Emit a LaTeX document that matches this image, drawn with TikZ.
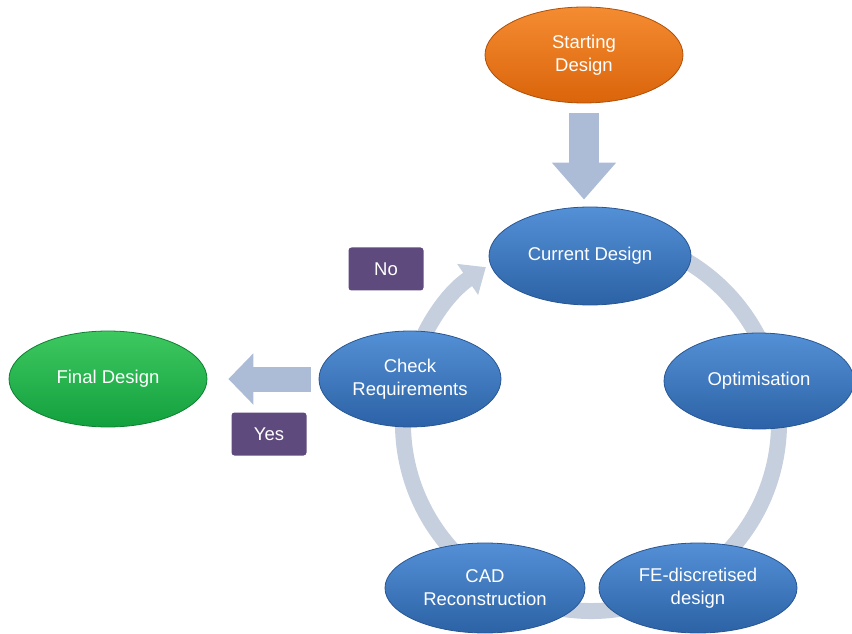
\documentclass[tikz,border=0pt]{standalone}
\usepackage{fontspec}
\setmainfont{Liberation Sans}
\usetikzlibrary{shapes.geometric,arrows.meta,backgrounds}
\definecolor{bluetop}{RGB}{84,144,214}
\definecolor{bluebot}{RGB}{44,98,166}
\definecolor{blueedge}{RGB}{40,86,148}
\definecolor{orangetop}{RGB}{245,140,50}
\definecolor{orangebot}{RGB}{218,100,10}
\definecolor{greentop}{RGB}{62,200,96}
\definecolor{greenbot}{RGB}{18,160,62}
\definecolor{answer}{RGB}{95,74,125}
\definecolor{arrowcol}{RGB}{172,188,214}
\definecolor{ringcol}{RGB}{198,207,222}
\begin{document}
\begin{tikzpicture}[x=1pt,y=1pt,
    stage/.style={ellipse,inner sep=0pt,minimum width=198pt,minimum height=96pt,
        draw=blueedge,line width=0.8pt,top color=bluetop,bottom color=bluebot,
        text=white,align=center,font=\fontsize{18.5}{23}\selectfont},
    start/.style={stage,draw=orangebot!80!black,top color=orangetop,bottom color=orangebot},
    final/.style={stage,draw=greenbot!80!black,top color=greentop,bottom color=greenbot},
    answerbox/.style={rectangle,rounded corners=3pt,fill=answer,text=white,
        minimum width=75pt,minimum height=43pt,font=\fontsize{18.5}{23}\selectfont},
    bigarrow/.style={draw=arrowcol,line width=#1},
    ring/.style={draw=ringcol,line width=16pt,-{Triangle[width=36pt,length=22pt]}}]
    \useasboundingbox (0,0) rectangle (852,633);
    %% Start and end
    \node[start] (startdes) at (584,578) {Starting\\Design};
    \node[final] (finaldes) at (108,254) {Final Design};
    %% Cycle
    \coordinate (hub) at (591,210);
    \node[stage,minimum width=202pt,minimum height=98pt] (current) at (590,377) {Current Design};
    \node[stage,minimum width=190pt] (optim) at (759,252) {Optimisation};
    \node[stage,minimum width=198pt,minimum height=90pt] (fedesign) at (698,45) {FE-discretised\\design};
    \node[stage,minimum width=200pt,minimum height=90pt] (cadrec) at (485,45) {CAD\\Reconstruction};
    \node[stage,minimum width=182pt] (checkreq) at (410,254) {Check\\Requirements};
    \begin{scope}[on background layer]
        \draw[ring] (hub) ++(80:188) arc[start angle=80,end angle=-236,radius=188];
    \end{scope}
    %% Answers
    \node[answerbox] (nobox) at (386,364) {No};
    \node[answerbox] (yesbox) at (269,199) {Yes};
    %% Block arrows
    \draw[bigarrow=30pt,-{Triangle[width=62pt,length=37pt]},shorten <=10pt,shorten >=7pt]
        (startdes.south) -- (startdes.south |- current.north);
    \draw[bigarrow=25pt,-{Triangle[width=50pt,length=25pt]},shorten <=8pt,shorten >=21pt]
        (checkreq.west) -- (finaldes.east);
\end{tikzpicture}
\end{document}
